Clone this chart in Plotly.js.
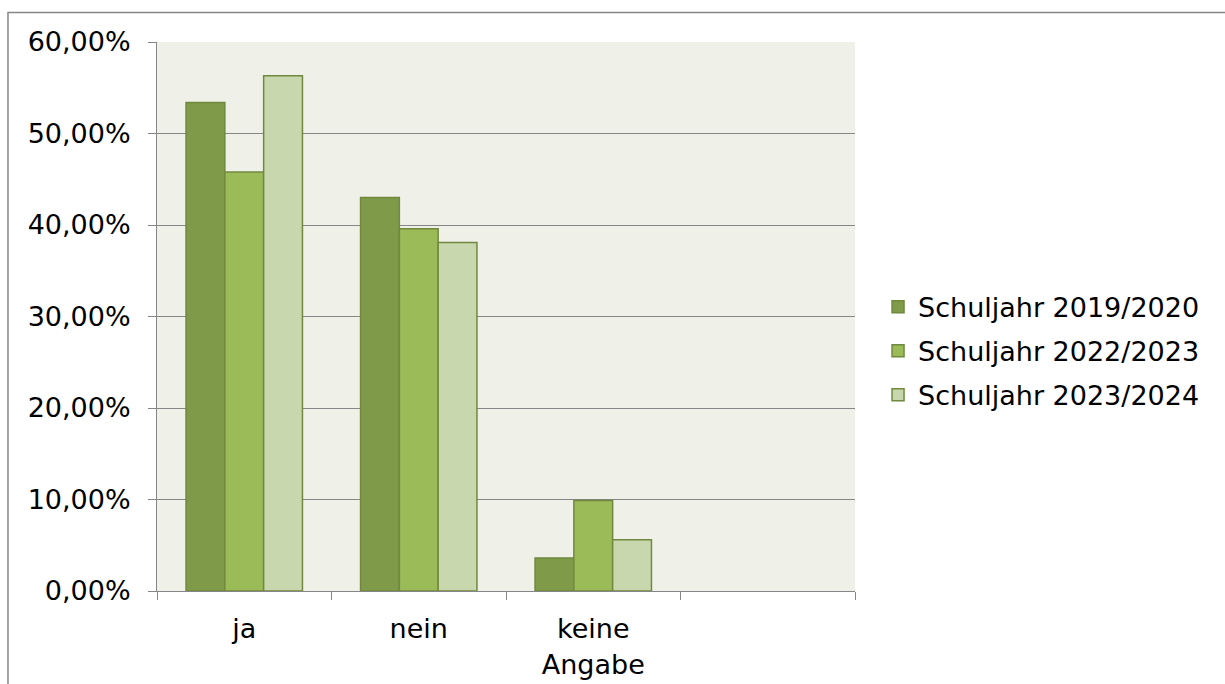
<!DOCTYPE html>
<html>
<head>
<meta charset="utf-8">
<script src="https://cdn.plot.ly/plotly-3.0.1.min.js"></script>
<style>
  html, body { margin: 0; padding: 0; background: #ffffff; }
  #chart { width: 1225px; height: 684px; }
</style>
</head>
<body>
<div id="chart"></div>
<script>
// Answer categories (the fourth slot on the axis stays empty)
const categories = ["ja", "nein", "keine<br>Angabe", " "];

// Share of answers per school year, in percent
const series2019 = [53.4, 43.0, 3.6, null];
const series2022 = [45.8, 39.6, 9.9, null];
const series2023 = [56.3, 38.1, 5.6, null];

const seriesNames = ["Schuljahr 2019/2020", "Schuljahr 2022/2023", "Schuljahr 2023/2024"];
const seriesColors = ["#7F9A48", "#9BBB59", "#C8D7AD"];
const edgeColor = "#71893F";

const font = "DejaVu Sans, Verdana, sans-serif";
const fontSize = 27;

const traces = [series2019, series2022, series2023].map((vals, i) => ({
  type: "bar",
  name: seriesNames[i],
  x: categories,
  y: vals,
  legendgroup: "g" + i,
  marker: { color: seriesColors[i], line: { color: edgeColor, width: 1.5 } },
  hoverinfo: "skip"
}));

const layout = {
  width: 1225,
  height: 684,
  margin: { l: 157, r: 370, t: 42, b: 93 },
  paper_bgcolor: "#ffffff",
  plot_bgcolor: "#EFF1E9",
  font: { family: font, size: fontSize, color: "#000000" },
  barmode: "group",
  bargap: 0.333,
  bargroupgap: 0,
  separators: ",.",
  showlegend: true,
  legend: {
    x: 1.033, xanchor: "left",
    y: 0.437, yanchor: "middle",
    traceorder: "grouped",
    tracegroupgap: 6,
    font: { family: font, size: fontSize, color: "#000000" },
    bgcolor: "rgba(0,0,0,0)"
  },
  xaxis: {
    type: "category",
    categoryorder: "array",
    categoryarray: categories,
    range: [-0.5, 3.5],
    tickson: "boundaries",
    ticks: "outside",
    ticklen: 8,
    tickwidth: 1,
    tickcolor: "#868686",
    showline: true,
    linecolor: "#868686",
    linewidth: 1,
    showgrid: false,
    fixedrange: true,
    ticklabelstandoff: 14,
    tickfont: { family: font, size: fontSize, color: "#000000" }
  },
  yaxis: {
    range: [0, 60],
    dtick: 10,
    tick0: 0,
    tickformat: ".2f",
    ticksuffix: "%",
    ticks: "outside",
    ticklen: 8,
    tickwidth: 1,
    tickcolor: "#868686",
    showline: true,
    linecolor: "#868686",
    linewidth: 1,
    showgrid: true,
    gridcolor: "#868686",
    gridwidth: 1,
    zeroline: false,
    fixedrange: true,
    ticklabelstandoff: 12,
    tickfont: { family: font, size: fontSize, color: "#000000" }
  },
  shapes: [{
    type: "rect",
    xref: "paper", yref: "paper",
    x0: -0.2135, x1: 1.6,
    y0: 1.0536, y1: -0.3,
    line: { color: "#868686", width: 1.5 },
    fillcolor: "rgba(0,0,0,0)",
    layer: "below"
  }]
};

Plotly.newPlot("chart", traces, layout, { displayModeBar: false, staticPlot: true });
</script>
</body>
</html>
